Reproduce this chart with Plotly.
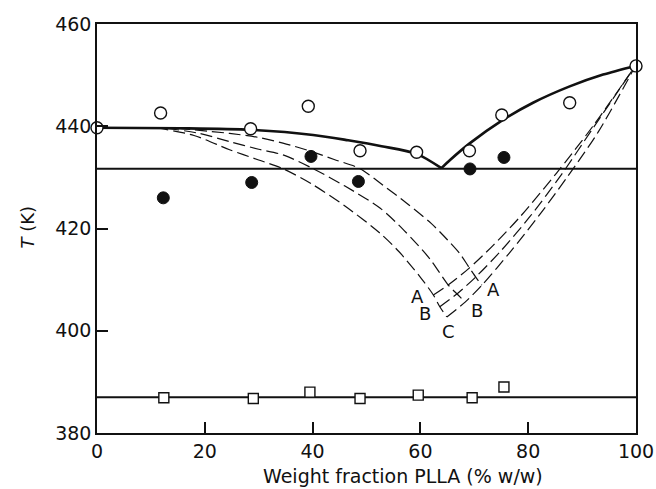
import plotly.graph_objects as go

# ---- data ----
open_x = [0, 11.8, 28.5, 39.2, 48.8, 59.3, 69.1, 75.1, 87.7, 100]
open_T = [439.7, 442.6, 439.5, 443.9, 435.2, 434.9, 435.2, 442.2, 444.6, 451.8]

filled_x = [12.3, 28.7, 39.7, 48.5, 69.2, 75.5]
filled_T = [426.0, 429.0, 434.1, 429.2, 431.65, 433.9]

square_x = [12.4, 29.0, 39.5, 48.8, 59.6, 69.6, 75.5]
square_T = [386.9, 386.75, 388.0, 386.75, 387.4, 386.9, 389.0]

liq_left_x = [0, 15.4, 28.5, 40.1, 46.6, 52.8, 59.3, 63.9]
liq_left_T = [439.7, 439.6, 439.3, 438.3, 437.25, 436.1, 434.6, 431.8]
liq_right_x = [63.9, 65.5, 69.2, 75.1, 80.9, 87.7, 93.9, 99.8]
liq_right_T = [431.8, 433.4, 436.7, 441.1, 444.6, 447.8, 450.1, 451.8]

eutectic_T = 431.7
tg_T = 387.0
line_x = [0, 100]

# theoretical (dashed) branches A, B, C
leftA_x = [15, 24.6, 30, 34.5, 40, 44, 48.8, 53, 57.4, 62, 65, 67.3, 68.9, 70.4, 71.4]
leftA_T = [439.6, 438.6, 437.8, 436.7, 435.0, 433.5, 431.7, 428.5, 425.0, 421.0, 417.8, 415.1, 412.6, 410.3, 408.9]
leftB_x = [13, 19, 24.6, 30, 34.5, 40.1, 46, 52.5, 57, 61.8, 65.2, 67.0, 68.3]
leftB_T = [439.6, 438.6, 437.0, 435.5, 434.4, 431.7, 428.3, 424.0, 419.6, 414.0, 408.9, 407.0, 405.6]
leftC_x = [11, 18, 24.6, 30, 34.5, 40, 46, 52.5, 56, 59.9, 62.4, 63.6, 64.9]
leftC_T = [439.7, 438.2, 435.4, 433.4, 431.7, 428.6, 424.4, 419.1, 415.5, 410.6, 407.0, 404.7, 402.7]

rightA_x = [62.4, 65.2, 68.9, 73.5, 78.5, 85.3, 92, 100]
rightA_T = [407.0, 409.0, 412.1, 416.7, 422.3, 430.9, 440.0, 452.0]
rightB_x = [63.6, 67.0, 70.4, 75, 80.3, 86.2, 92, 100]
rightB_T = [404.7, 407.4, 410.65, 415.7, 422.3, 430.6, 439.6, 452.0]
rightC_x = [64.9, 68.3, 71.4, 76.5, 82.2, 87.4, 93, 100]
rightC_T = [402.7, 405.6, 408.9, 415.2, 422.8, 430.3, 438.9, 452.0]

label_text = ["A", "B", "C", "A", "B"]
label_x = [59.44, 60.83, 65.29, 73.64, 70.58]
label_T = [406.64, 403.45, 399.79, 408.15, 404.04]

x_ticks = [0, 20, 40, 60, 80, 100]
y_ticks = [380, 400, 420, 440, 460]
x_title = "Weight fraction PLLA (% w/w)"
y_title = "<i>T</i> (K)"

FONT = "DejaVu Sans"
INK = "#111111"

fig = go.Figure()

# horizontal lines
for T in [eutectic_T, tg_T]:
    fig.add_trace(go.Scatter(x=line_x, y=[T, T], mode="lines",
                             line=dict(color=INK, width=2), hoverinfo="skip"))

# dashed theoretical curves
for xs, ts in [(leftA_x, leftA_T), (leftB_x, leftB_T), (leftC_x, leftC_T),
               (rightA_x, rightA_T), (rightB_x, rightB_T), (rightC_x, rightC_T)]:
    fig.add_trace(go.Scatter(x=xs, y=ts, mode="lines", line_shape="spline",
                             line=dict(color=INK, width=1.2, dash="12px,5px",
                                       smoothing=0.8),
                             hoverinfo="skip"))

# solid liquidus
for xs, ts in [(liq_left_x, liq_left_T), (liq_right_x, liq_right_T)]:
    fig.add_trace(go.Scatter(x=xs, y=ts, mode="lines", line_shape="spline",
                             line=dict(color=INK, width=2.6, smoothing=0.8),
                             hoverinfo="skip"))

# markers
fig.add_trace(go.Scatter(x=open_x, y=open_T, mode="markers", cliponaxis=False,
                         marker=dict(symbol="circle", size=12, color="white",
                                     line=dict(color=INK, width=1.4))))
fig.add_trace(go.Scatter(x=filled_x, y=filled_T, mode="markers",
                         marker=dict(symbol="circle", size=12, color=INK,
                                     line=dict(color=INK, width=1))))
fig.add_trace(go.Scatter(x=square_x, y=square_T, mode="markers",
                         marker=dict(symbol="square", size=10, color="white",
                                     line=dict(color=INK, width=1.4))))

# curve labels
for t, x, y in zip(label_text, label_x, label_T):
    fig.add_annotation(x=x, y=y, text=t, showarrow=False,
                       font=dict(family=FONT, size=18, color=INK))

# axis titles
fig.add_annotation(xref="paper", yref="y", x=0, y=420.2, xanchor="center",
                   xshift=-70, text=y_title, textangle=-90,
                   showarrow=False, font=dict(family=FONT, size=18, color=INK))
fig.add_annotation(xref="x", yref="paper", x=56.7, y=0, yanchor="middle",
                   yshift=-43, text=x_title, showarrow=False,
                   font=dict(family=FONT, size=19, color=INK))

fig.update_layout(
    width=656, height=489,
    margin=dict(l=97, r=20, t=24, b=56, autoexpand=False),
    paper_bgcolor="white", plot_bgcolor="white",
    showlegend=False,
    font=dict(family=FONT, size=19, color=INK),
)
fig.update_xaxes(range=[0, 100], tickvals=x_ticks, ticks="inside", ticklen=11,
                 tickwidth=1.5, tickcolor=INK, showgrid=False, zeroline=False,
                 showline=True, linewidth=1.8, linecolor=INK, mirror=True,
                 automargin=False,
                 tickfont=dict(family=FONT, size=19, color=INK))
fig.update_yaxes(range=[380, 460], tickvals=y_ticks, ticks="inside", ticklen=11,
                 tickwidth=1.5, tickcolor=INK, showgrid=False, zeroline=False,
                 showline=True, linewidth=1.5, linecolor=INK, mirror=True,
                 automargin=False,
                 tickfont=dict(family=FONT, size=19, color=INK))

fig.write_html("out.html", config={"displayModeBar": False},
               post_script="document.body.style.margin='0';document.body.style.overflow='hidden';")
